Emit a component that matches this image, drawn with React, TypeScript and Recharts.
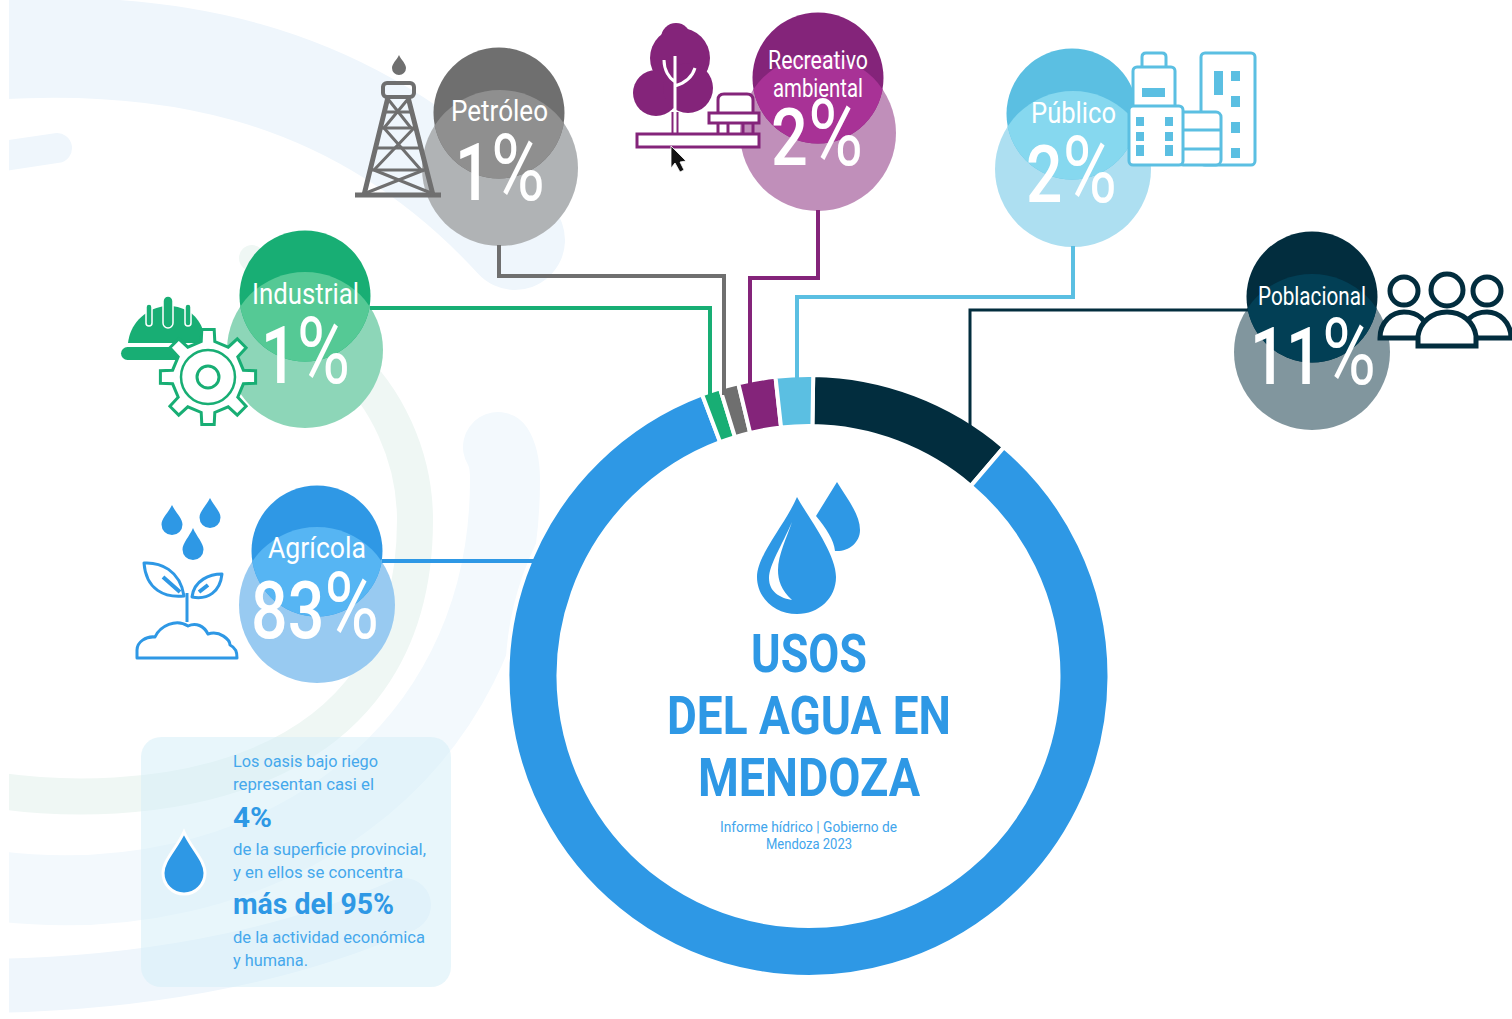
import React from 'react';
import { PieChart, Pie } from 'recharts';

// Usos del agua, clockwise from the top of the ring
const categories = ['Poblacional', 'Agrícola', 'Industrial', 'Petróleo', 'Recreativo ambiental', 'Público'];
const values = [11, 83, 1, 1, 2, 2];
const ringColors = ['#022d3e', '#2e98e5', '#18ae74', '#6f6f6f', '#84247a', '#5bbfe2'];

const titleLines = ['USOS', 'DEL AGUA EN', 'MENDOZA'];
const sourceLines = ['Informe hídrico | Gobierno de', 'Mendoza 2023'];
const noteLines = [
  'Los oasis bajo riego',
  'representan casi el',
  '4%',
  'de la superficie provincial,',
  'y en ellos se concentra',
  'más del 95%',
  'de la actividad económica',
  'y humana.',
];

const BLUE = '#2e98e5';
const FONT = 'Roboto, sans-serif';

type Bubble = {
  dark: [number, number]; light: [number, number]; colors: [string, string, string];
  labels: [number, number, number, number][]; value: [number, number, number, number];
  line: string; lineWidth: number;
};

const bubbleLayout: Bubble[] = [
  { dark: [1312, 297], light: [1312, 352], colors: ['#022d3e', '#81969e', '#023f55'], labels: [[1258, 305, 108, 25]], value: [1250, 384, 126, 80], line: 'M1248 310H970V432', lineWidth: 3 },
  { dark: [317, 551], light: [317, 605], colors: ['#2f98e5', '#98caf1', '#56b5f3'], labels: [[268, 558, 98, 29]], value: [251, 638, 128, 80], line: 'M382 561H540', lineWidth: 4 },
  { dark: [305, 296], light: [305, 350], colors: ['#18ae74', '#8dd6b8', '#55c995'], labels: [[252, 304, 107, 29]], value: [261, 383, 89, 80], line: 'M370 308H710V400', lineWidth: 4 },
  { dark: [499, 113], light: [500, 168], colors: ['#6f6f6f', '#b0b3b5', '#8f8f8f'], labels: [[451, 121, 97, 29]], value: [455, 200, 90, 80], line: 'M499 245V276H724V395', lineWidth: 4 },
  { dark: [818, 78], light: [818, 133], colors: ['#84247a', '#c08fba', '#a83296'], labels: [[768, 69, 100, 25], [773, 97, 90, 25]], value: [771, 165, 92, 80], line: 'M818 210V278H750V388', lineWidth: 4 },
  { dark: [1072, 114], light: [1073, 169], colors: ['#5bbfe2', '#addff1', '#86d8ef'], labels: [[1031, 123, 85, 29]], value: [1026, 202, 91, 80], line: 'M1073 246V297H797V384', lineWidth: 4 },
];

// x, baseline, width, font size, weight
const titleLayout = [[751, 672, 116, 53], [667, 734, 284, 53], [698, 796, 222, 53]];
const sourceLayout = [[720, 832, 177], [766, 849, 86]];
const noteLayout = [
  [233, 767, 145, 17, 400], [233, 790, 141, 17, 400], [233, 827, 39, 28, 700], [233, 855, 193, 17, 400],
  [233, 878, 170, 17, 400], [233, 914, 161, 30, 700], [233, 943, 192, 17, 400], [233, 966, 75, 17, 400],
];

const pieData = categories.map((name, i) => ({ name, value: values[i], fill: ringColors[i] }));

const FitText = ({ x, y, w, size, weight = 400, fill = '#fff', children }: any) => (
  <text x={x} y={y} textLength={w} lengthAdjust="spacingAndGlyphs" fontFamily={FONT} fontSize={size} fontWeight={weight} fill={fill}>
    {children}
  </text>
);

const drop = (cx: number, top: number, bottom: number, hw: number) => {
  const r = hw;
  const my = bottom - r;
  return `M${cx} ${top}C${cx - hw * 0.35} ${top + (my - top) * 0.4} ${cx - hw} ${my - r * 0.6} ${cx - hw} ${my}A${r} ${r} 0 0 0 ${cx + hw} ${my}C${cx + hw} ${my - r * 0.6} ${cx + hw * 0.35} ${top + (my - top) * 0.4} ${cx} ${top}Z`;
};

const gear = (cx: number, cy: number, teeth: number, rOuter: number, rBody: number) => {
  const pts: string[] = [];
  const step = (Math.PI * 2) / teeth;
  for (let i = 0; i < teeth; i++) {
    const a = i * step - Math.PI / 2;
    const p = (r: number, t: number) => `${(cx + r * Math.cos(t)).toFixed(1)} ${(cy + r * Math.sin(t)).toFixed(1)}`;
    pts.push(p(rBody, a - 0.19), p(rOuter, a - 0.13), p(rOuter, a + 0.13), p(rBody, a + 0.19));
  }
  return 'M' + pts.join('L') + 'Z';
};

const Backdrop = () => (
  <g fill="none" strokeLinecap="round">
    <path d="M-40 52C150 35 350 60 515 240" stroke="#eff6fc" strokeWidth={100} />
    <path d="M-10 158L57 148" stroke="#eff6fc" strokeWidth={30} />
    <path d="M-20 788C140 815 415 790 415 520C415 455 385 395 345 360" stroke="#eff7f4" strokeWidth={36} />
    <circle cx={252} cy={258} r={13} fill="#eff7f4" />
    <path d="M-20 884C260 925 505 760 505 480C505 465 503 455 498 447" stroke="#f3f9fd" strokeWidth={70} />
    <path d="M-20 986C130 985 280 960 404 905" stroke="#eff6fc" strokeWidth={54} />
    <rect x={141} y={737} width={310} height={250} rx={20} fill="#d5eef8" fillOpacity={0.55} stroke="none" />
    <rect x={0} y={0} width={9} height={1019} fill="#fff" stroke="none" />
  </g>
);

const Bubbles = () => (
  <g>
    {bubbleLayout.map((b, i) => {
      const id = `light-${i}`;
      const words = categories[i].split(' ');
      return (
        <g key={id}>
          <clipPath id={id}><circle cx={b.light[0]} cy={b.light[1]} r={78} /></clipPath>
          <circle cx={b.light[0]} cy={b.light[1]} r={78} fill={b.colors[1]} />
          <circle cx={b.dark[0]} cy={b.dark[1]} r={65.5} fill={b.colors[0]} />
          <circle cx={b.dark[0]} cy={b.dark[1]} r={65.5} fill={b.colors[2]} clipPath={`url(#${id})`} />
          {b.labels.map((l, k) => (
            <FitText key={k} x={l[0]} y={l[1]} w={l[2]} size={l[3]}>{words[k]}</FitText>
          ))}
          <FitText x={b.value[0]} y={b.value[1]} w={b.value[2]} size={b.value[3]} weight={500}>
            {values[i]}<tspan fontSize={b.value[3] * 1.16} fontWeight={400}>%</tspan>
          </FitText>
        </g>
      );
    })}
  </g>
);

const Derrick = () => (
  <g stroke="#6f6f6f" strokeWidth={4} fill="none">
    <path d={drop(399, 55, 75, 7)} fill="#6f6f6f" stroke="none" />
    <rect x={383} y={83} width={31} height={14} rx={4} />
    <path d="M355 195H441" strokeWidth={5} />
    <path d="M388 97L364 195M408 97L433 195" strokeWidth={5} />
    <path d="M386 112H411M382 128H416M376 148H421M371 170H426" strokeWidth={3} />
    <path d="M388 99L411 128M408 99L384 128M384 128L421 170M414 128L374 170M374 170L431 193M424 170L366 193" strokeWidth={3} />
  </g>
);

const Park = () => (
  <g>
    <g fill="#84247a">
      <circle cx={676} cy={38} r={15} />
      <circle cx={680} cy={58} r={30} />
      <circle cx={656} cy={93} r={23} />
      <circle cx={688} cy={88} r={25} />
    </g>
    <path d="M675 112V134" stroke="#84247a" strokeWidth={7} />
    <path d="M675 56V134M664 60C664 70 669 78 675 82M695 68C692 78 685 83 675 86" stroke="#fff" strokeWidth={3} fill="none" />
    <g stroke="#84247a" strokeWidth={3} fill="#fff">
      <path d="M718 113V100Q718 94 724 94H747Q753 94 753 100V113" />
      <rect x={709} y={113} width={50} height={10} />
      <path d="M718 123V134M728 123V134M743 123V134M753 123V134" />
      <rect x={637} y={134} width={122} height={13} />
    </g>
    <path d="M671 146V168L675 163L680 172L684 170L680 162L686 161Z" fill="#111" stroke="#fff" strokeWidth={0.8} />
  </g>
);

const Buildings = () => (
  <g stroke="#5bbfe2" strokeWidth={3} fill="#fff">
    <rect x={1201} y={53} width={54} height={112} rx={4} />
    <g fill="#5bbfe2" stroke="none">
      <rect x={1214} y={71} width={9} height={24} />
      <rect x={1231} y={71} width={9} height={10} />
      <rect x={1231} y={96} width={9} height={11} />
      <rect x={1231} y={122} width={9} height={11} />
      <rect x={1231} y={148} width={9} height={10} />
    </g>
    <path d="M1142 68V57Q1142 53 1146 53H1162Q1166 53 1166 57V68" />
    <rect x={1133} y={67} width={42} height={44} rx={4} />
    <rect x={1142} y={88} width={23} height={9} fill="#5bbfe2" stroke="none" />
    <rect x={1178} y={112} width={43} height={53} rx={5} />
    <path d="M1183 130H1220M1183 149H1220" />
    <rect x={1129} y={106} width={54} height={59} rx={4} />
    <g fill="#5bbfe2" stroke="none">
      {[117, 132, 145].map(y => (
        <g key={y}>
          <rect x={1136} y={y} width={8} height={y === 145 ? 11 : 9} />
          <rect x={1165} y={y} width={8} height={y === 145 ? 11 : 9} />
        </g>
      ))}
    </g>
  </g>
);

const People = () => (
  <g stroke="#022d3e" strokeWidth={5} fill="#fff">
    <circle cx={1404} cy={291} r={14} />
    <circle cx={1487} cy={291} r={14} />
    <path d="M1380 338C1380 322 1392 312 1404 312C1418 312 1428 320 1430 338Z" />
    <path d="M1511 338C1511 322 1499 312 1487 312C1473 312 1463 320 1461 338Z" />
    <circle cx={1447} cy={290} r={16} />
    <path d="M1418 346V336C1420 322 1432 312 1447 312C1462 312 1474 322 1476 336V346Z" />
  </g>
);

const Helmet = () => (
  <g>
    <path d="M128 343C130 325 143 310 164 306H172C188 308 198 316 203 330V343Z" fill="#18ae74" />
    <rect x={163} y={296} width={10} height={32} rx={5} fill="#18ae74" stroke="#fff" strokeWidth={1.5} />
    <rect x={146} y={304} width={6} height={22} rx={3} fill="#18ae74" stroke="#fff" strokeWidth={1.5} />
    <rect x={185} y={304} width={6} height={22} rx={3} fill="#18ae74" stroke="#fff" strokeWidth={1.5} />
    <rect x={121} y={347} width={70} height={13} rx={6.5} fill="#18ae74" />
    <path d={gear(208, 377, 8, 48, 36)} fill="#fff" stroke="#18ae74" strokeWidth={3} />
    <circle cx={208} cy={377} r={27} fill="#fff" stroke="#18ae74" strokeWidth={2.5} />
    <circle cx={208} cy={377} r={11} fill="#fff" stroke="#18ae74" strokeWidth={3} />
  </g>
);

const Plant = () => (
  <g>
    <path d={drop(172, 505, 535, 10.5)} fill={BLUE} />
    <path d={drop(210, 498, 528, 10.5)} fill={BLUE} />
    <path d={drop(193, 528, 560, 10.5)} fill={BLUE} />
    <g stroke={BLUE} strokeWidth={3} fill="none" strokeLinejoin="round">
      <path d="M144 563C160 562 180 570 184 596C165 598 146 590 144 563Z" fill="#fff" />
      <path d="M222 574C210 574 194 580 192 597C208 600 220 592 222 574Z" fill="#fff" />
      <path d="M163 577L180 592M199 592L208 585" strokeWidth={4} />
      <path d="M187 593V622" />
      <path d="M137 658V650C137 642 146 636 155 637C160 626 176 618 188 626C196 622 204 626 208 634C220 630 230 640 230 645C236 648 237 652 237 658Z" fill="#fff" />
    </g>
  </g>
);

const Center = () => (
  <g>
    <path d="M837 482C846 497 860 514 860 530C860 543 848 552 835 551C834 540 826 528 816 516Z" fill={BLUE} />
    <path d="M797 497C785 525 757 555 757 577C757 598 775 614 797 614C819 614 836 598 836 577C836 553 808 517 797 497Z" fill={BLUE} />
    <path d="M792 522C782 545 769 565 769 578C769 592 780 598 792 600C781 590 778 580 778 570C778 555 787 537 792 522Z" fill="#fff" />
    {titleLines.map((t, i) => (
      <FitText key={t} x={titleLayout[i][0]} y={titleLayout[i][1]} w={titleLayout[i][2]} size={titleLayout[i][3]} weight={700} fill={BLUE}>{t}</FitText>
    ))}
    {sourceLines.map((t, i) => (
      <FitText key={t} x={sourceLayout[i][0]} y={sourceLayout[i][1]} w={sourceLayout[i][2]} size={14.5} fill="#42a5ec">{t}</FitText>
    ))}
  </g>
);

const Note = () => (
  <g>
    <path d={drop(184, 832, 894, 21)} fill={BLUE} stroke="#fff" strokeWidth={3} />
    {noteLines.map((t, i) => {
      const n = noteLayout[i];
      return (
        <FitText key={t} x={n[0]} y={n[1]} w={n[2]} size={n[3]} weight={n[4]} fill={n[4] === 700 ? BLUE : '#45a8ec'}>{t}</FitText>
      );
    })}
  </g>
);

export default function App() {
  return (
    <div style={{ position: 'absolute', left: 0, top: 0, width: 1512, height: 1019, background: '#fff', overflow: 'hidden' }}>
      <PieChart width={1512} height={1019} margin={{ top: 0, right: 0, bottom: 0, left: 0 }}>
        <Backdrop />
        <Pie
          data={pieData}
          dataKey="value"
          nameKey="name"
          cx={808.5}
          cy={676}
          innerRadius={250}
          outerRadius={301}
          startAngle={89.1}
          endAngle={-270.9}
          stroke="#fff"
          strokeWidth={4}
          isAnimationActive={false}
        />
        <Bubbles />
        <Derrick />
        <Park />
        <Buildings />
        <People />
        <Helmet />
        <Plant />
        <Center />
        <Note />
      </PieChart>
      {/* the Pie paints above its siblings, so the leader lines sit in their own layer to reach the slices */}
      <svg width={1512} height={1019} style={{ position: 'absolute', left: 0, top: 0, pointerEvents: 'none' }}>
        {bubbleLayout.map((b, i) => (
          <path key={categories[i]} d={b.line} fill="none" stroke={ringColors[i]} strokeWidth={b.lineWidth} />
        ))}
      </svg>
    </div>
  );
}
